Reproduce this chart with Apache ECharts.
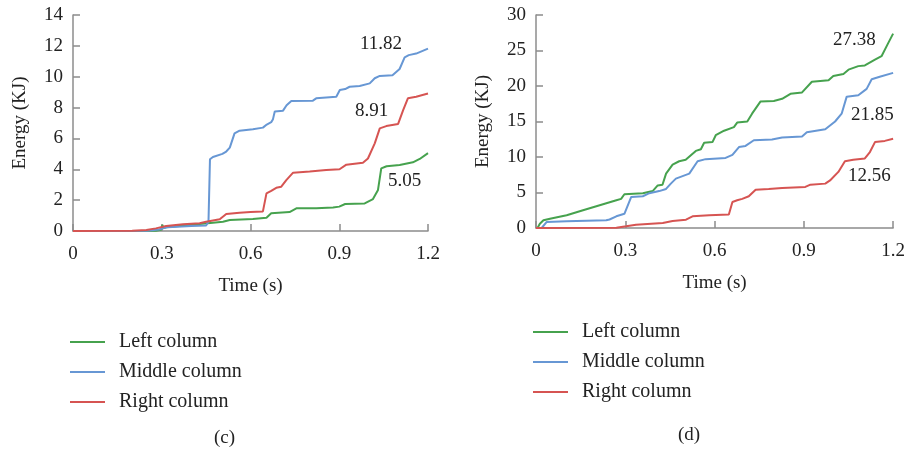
<!DOCTYPE html>
<html>
<head>
<meta charset="utf-8">
<script src="https://cdn.jsdelivr.net/npm/echarts@6/dist/echarts.min.js"></script>
<style>
  html, body { margin: 0; padding: 0; background: #fff; }
  #chart { width: 908px; height: 453px; }
</style>
</head>
<body>
<div id="chart"></div>
<script>
// series names
const names = ['Left column', 'Middle column', 'Right column']

// (c) time (s) / energy (KJ) pairs
const cLeft = [[0, 0], [0.28, 0.02], [0.298, 0.08], [0.302, 0.39], [0.306, 0.2], [0.315, 0.24], [0.428, 0.45],
    [0.473, 0.54], [0.507, 0.6], [0.53, 0.71], [0.608, 0.78], [0.654, 0.86], [0.67, 1.15], [0.732, 1.23],
    [0.755, 1.47], [0.822, 1.47], [0.879, 1.53], [0.9, 1.58], [0.92, 1.75], [0.986, 1.79], [1.014, 2.07],
    [1.031, 2.66], [1.042, 4.06], [1.06, 4.2], [1.104, 4.28], [1.149, 4.45], [1.172, 4.67], [1.2, 5.05]]
const cMiddle = [[0, 0], [0.25, 0.02], [0.29, 0.1], [0.32, 0.25], [0.4, 0.32], [0.45, 0.36], [0.458, 0.6],
    [0.463, 4.65], [0.473, 4.8], [0.505, 5.0], [0.518, 5.15], [0.53, 5.4], [0.546, 6.33], [0.563, 6.5],
    [0.608, 6.6], [0.642, 6.7], [0.655, 6.9], [0.67, 7.05], [0.676, 7.25], [0.682, 7.75], [0.71, 7.8],
    [0.722, 8.15], [0.738, 8.43], [0.811, 8.45], [0.822, 8.6], [0.89, 8.7], [0.902, 9.14], [0.92, 9.2],
    [0.935, 9.35], [0.969, 9.4], [1.003, 9.57], [1.02, 9.9], [1.037, 10.05], [1.08, 10.1], [1.104, 10.5],
    [1.121, 11.26], [1.135, 11.4], [1.16, 11.5], [1.2, 11.82]]
const cRight = [[0, 0], [0.2, 0.02], [0.248, 0.06], [0.28, 0.17], [0.315, 0.32], [0.372, 0.43], [0.428, 0.5],
    [0.45, 0.6], [0.496, 0.76], [0.518, 1.1], [0.563, 1.19], [0.6, 1.23], [0.642, 1.27], [0.654, 2.44],
    [0.67, 2.6], [0.687, 2.8], [0.704, 2.87], [0.721, 3.3], [0.744, 3.78], [0.8, 3.85], [0.856, 3.95],
    [0.901, 4.0], [0.924, 4.3], [0.98, 4.43], [0.997, 4.7], [1.02, 5.68], [1.037, 6.65], [1.059, 6.8],
    [1.099, 6.94], [1.116, 7.84], [1.132, 8.6], [1.16, 8.7], [1.2, 8.91]]

// (d) time (s) / energy (KJ) pairs
const dLeft = [[0.005, 0], [0.013, 0.6], [0.025, 1.08], [0.047, 1.3], [0.103, 1.8], [0.158, 2.5], [0.214, 3.2],
    [0.27, 3.9], [0.286, 4.1], [0.297, 4.75], [0.359, 4.9], [0.392, 5.2], [0.409, 6.0], [0.425, 6.1],
    [0.437, 7.66], [0.459, 8.93], [0.481, 9.4], [0.503, 9.6], [0.537, 10.86], [0.554, 11.1], [0.565, 12.0],
    [0.593, 12.1], [0.604, 13.07], [0.632, 13.7], [0.665, 14.2], [0.676, 14.85], [0.71, 15.0], [0.726, 16.1],
    [0.754, 17.8], [0.799, 17.9], [0.827, 18.2], [0.855, 18.9], [0.894, 19.1], [0.927, 20.6], [0.983, 20.8],
    [0.999, 21.4], [1.033, 21.7], [1.05, 22.3], [1.083, 22.8], [1.105, 22.9], [1.139, 23.7], [1.161, 24.2],
    [1.183, 26.0], [1.2, 27.38]]
const dMiddle = [[0.019, 0], [0.036, 0.85], [0.103, 0.94], [0.236, 1.08], [0.247, 1.2], [0.27, 1.65],
    [0.297, 2.0], [0.32, 4.37], [0.359, 4.47], [0.381, 4.9], [0.414, 5.2], [0.437, 5.5], [0.453, 6.25],
    [0.47, 6.96], [0.515, 7.66], [0.543, 9.4], [0.57, 9.7], [0.637, 9.87], [0.66, 10.3], [0.682, 11.4],
    [0.704, 11.56], [0.732, 12.36], [0.793, 12.46], [0.827, 12.74], [0.894, 12.9], [0.91, 13.5],
    [0.972, 13.9], [1.005, 15.0], [1.027, 16.1], [1.044, 18.5], [1.083, 18.7], [1.111, 19.6],
    [1.128, 20.96], [1.155, 21.3], [1.2, 21.85]]
const dRight = [[0, 0], [0.27, 0.02], [0.303, 0.24], [0.336, 0.47], [0.426, 0.7], [0.459, 1.0], [0.504, 1.17],
    [0.526, 1.65], [0.582, 1.8], [0.648, 1.9], [0.66, 3.67], [0.676, 3.9], [0.693, 4.1], [0.715, 4.47],
    [0.738, 5.4], [0.782, 5.5], [0.827, 5.64], [0.905, 5.78], [0.922, 6.1], [0.972, 6.25], [0.988, 6.7],
    [1.016, 7.9], [1.038, 9.4], [1.066, 9.6], [1.105, 9.8], [1.122, 10.7], [1.139, 12.1], [1.172, 12.27],
    [1.2, 12.56]]

// x ticks and y ranges
const xTicks = [0, 0.3, 0.6, 0.9, 1.2]
const cYMax = 14, cYStep = 2
const dYMax = 30, dYStep = 5

const colors = ['#46a24e', '#6797d4', '#d65452']
const font = 'Liberation Serif'
const axisGray = '#8c8c8c'

function xAxisOf(gridIndex) {
    return {
        type: 'value', gridIndex: gridIndex, min: xTicks[0], max: xTicks[xTicks.length - 1], interval: 0.3,
        name: 'Time (s)', nameLocation: 'middle', nameGap: 46,
        nameTextStyle: { fontFamily: font, fontSize: 19, color: '#222' },
        axisLine: { lineStyle: { color: axisGray, width: 1.5 } },
        axisTick: { inside: true, length: 7, lineStyle: { color: axisGray, width: 1.5 } },
        axisLabel: { fontFamily: font, fontSize: 19, color: '#222', margin: 14,
            formatter: v => String(Math.round(v * 10) / 10) },
        splitLine: { show: false }
    }
}

function yAxisOf(gridIndex, max, step) {
    return {
        type: 'value', gridIndex: gridIndex, min: 0, max: max, interval: step,
        name: 'Energy (KJ)', nameLocation: 'middle', nameGap: 43,
        nameTextStyle: { fontFamily: font, fontSize: 19, color: '#222' },
        axisLine: { show: true, lineStyle: { color: axisGray, width: 1.5 } },
        axisTick: { show: true, inside: true, length: 7, lineStyle: { color: axisGray, width: 1.5 } },
        axisLabel: { fontFamily: font, fontSize: 19, color: '#222', margin: 10 },
        splitLine: { show: false }
    }
}

function lineOf(name, data, idx, color) {
    return {
        name: name, type: 'line', xAxisIndex: idx, yAxisIndex: idx, data: data,
        showSymbol: false, symbol: 'none', smooth: false, animation: false,
        lineStyle: { width: 2, color: color }, itemStyle: { color: color }
    }
}

function legendOf(left, top) {
    return {
        orient: 'vertical', left: left, top: top, padding: 0, icon: 'rect', itemWidth: 35, itemHeight: 2, itemGap: 10,
        data: names,
        textStyle: { fontFamily: font, fontSize: 20, color: '#222', lineHeight: 20, padding: [0, 0, 0, 9] }
    }
}

function note(text, x, y) {
    return { type: 'text', left: x, top: y, style: { text: text, fontFamily: font, fontSize: 19, fill: '#222' } }
}

const chart = echarts.init(document.getElementById('chart'), null, { renderer: 'canvas' })
chart.setOption({
    backgroundColor: '#fff',
    animation: false,
    grid: [
        { left: 73, top: 15, width: 355, height: 216 },
        { left: 536, top: 15, width: 359, height: 213 }
    ],
    xAxis: [xAxisOf(0), xAxisOf(1)],
    yAxis: [yAxisOf(0, cYMax, cYStep), yAxisOf(1, dYMax, dYStep)],
    legend: [legendOf(70, 332), legendOf(533, 322)],
    title: [
        { text: '(c)', left: 214, top: 429, textStyle: { fontFamily: font, fontSize: 19, fontWeight: 'normal', color: '#222' }, padding: 0 },
        { text: '(d)', left: 678, top: 426, textStyle: { fontFamily: font, fontSize: 19, fontWeight: 'normal', color: '#222' }, padding: 0 }
    ],
    graphic: [
        note('11.82', 360, 35),
        note('8.91', 355, 102),
        note('5.05', 388, 172),
        note('27.38', 833, 31),
        note('21.85', 851, 106),
        note('12.56', 848, 167)
    ],
    series: [
        lineOf(names[0], cLeft, 0, colors[0]),
        lineOf(names[1], cMiddle, 0, colors[1]),
        lineOf(names[2], cRight, 0, colors[2]),
        lineOf(names[0], dLeft, 1, colors[0]),
        lineOf(names[1], dMiddle, 1, colors[1]),
        lineOf(names[2], dRight, 1, colors[2])
    ]
})
</script>
</body>
</html>
